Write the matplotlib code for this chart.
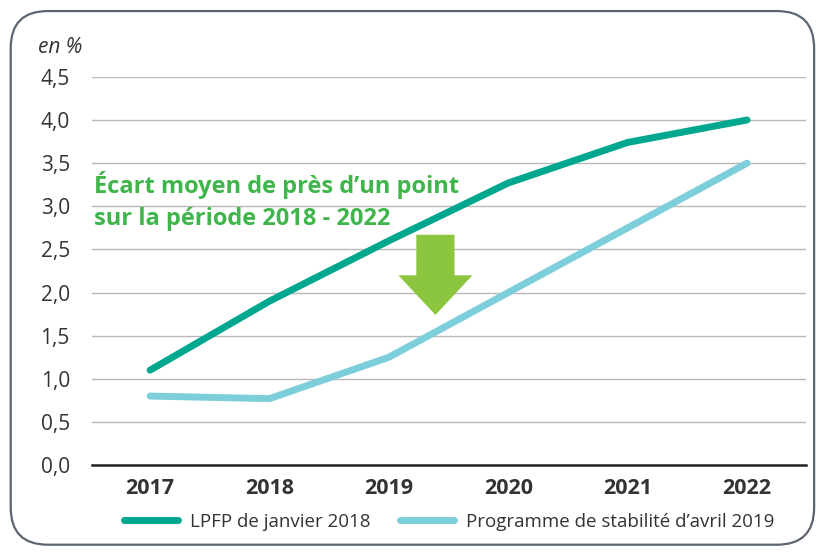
import numpy as np
import matplotlib
matplotlib.use('Agg')
import matplotlib.pyplot as plt
from matplotlib.patches import FancyBboxPatch, Polygon

plt.rcParams['font.family'] = ['Open Sans', 'DejaVu Sans']

# data
years = [2017, 2018, 2019, 2020, 2021, 2022]
lpfp_2018 = [1.1, 1.9, 2.6, 3.27, 3.74, 4.0]
pstab_2019 = [0.8, 0.77, 1.25, 2.0, 2.75, 3.5]
yticks = [0.0, 0.5, 1.0, 1.5, 2.0, 2.5, 3.0, 3.5, 4.0, 4.5]
series_labels = ['LPFP de janvier 2018', "Programme de stabilité d\u2019avril 2019"]

dark_teal = '#00a78f'
light_teal = '#7dcedb'
green_txt = '#3fb54b'
arrow_green = '#8cc63f'
text_col = '#333333'

fig = plt.figure(figsize=(8.24, 5.53), dpi=100)

# rounded frame around the whole chart
frame = FancyBboxPatch((0.013, 0.015), 0.975, 0.965, boxstyle='round,pad=0,rounding_size=0.045',
                       transform=fig.transFigure, facecolor='white', edgecolor='#5d6670',
                       linewidth=1.6, mutation_aspect=824 / 553, zorder=-5)
fig.patches.append(frame)

ax = fig.add_axes([0.1117, 0.159, 0.8665, 0.702])
ax.set_facecolor('none')

ax.plot(years, lpfp_2018, color=dark_teal, lw=5, solid_capstyle='round', label=series_labels[0], zorder=3)
ax.plot(years, pstab_2019, color=light_teal, lw=5, solid_capstyle='round', label=series_labels[1], zorder=3)

ax.set_xlim(2016.514, 2022.494)
ax.set_ylim(0, 4.5)
ax.set_yticks(yticks)
ax.set_yticklabels([f'{v:.1f}'.replace('.', ',') for v in yticks], fontsize=15, color=text_col)
ax.set_xticks(years)
ax.set_xticklabels([str(y) for y in years], fontsize=15.5, fontweight='bold', color=text_col)
ax.tick_params(axis='y', length=0, pad=16)
ax.tick_params(axis='x', length=0, pad=9)
ax.grid(axis='y', color='#b8b8b8', lw=1)
ax.set_axisbelow(True)
for s in ['top', 'right', 'left']:
    ax.spines[s].set_visible(False)
ax.spines['bottom'].set_color('#222222')
ax.spines['bottom'].set_linewidth(1.8)
ax.spines['bottom'].set_zorder(4)

fig.text(0.046, 0.915, 'en %', fontsize=15, style='italic', color=text_col, va='center')

# annotation text
ax.text(2016.53, 3.25, 'Écart moyen de près d\u2019un point', fontsize=17, fontweight='bold',
        color=green_txt, va='center', zorder=2)
ax.text(2016.53, 2.85, 'sur la période 2018 - 2022', fontsize=17, fontweight='bold',
        color=green_txt, va='center', zorder=2)

# big down arrow
arrow_pts = [(2019.23, 2.67), (2019.55, 2.67), (2019.55, 2.20), (2019.70, 2.20),
             (2019.39, 1.74), (2019.08, 2.20), (2019.23, 2.20)]
ax.add_patch(Polygon(arrow_pts, closed=True, facecolor=arrow_green, edgecolor='none', zorder=4))

leg = fig.legend(loc='center left', bbox_to_anchor=(0.13, 0.056), ncol=2, frameon=False,
                 fontsize=13.5, handlelength=2.9, columnspacing=1.6, handletextpad=0.6)
for t in leg.get_texts():
    t.set_color(text_col)

fig.savefig('out.png', dpi=100, facecolor='white')
